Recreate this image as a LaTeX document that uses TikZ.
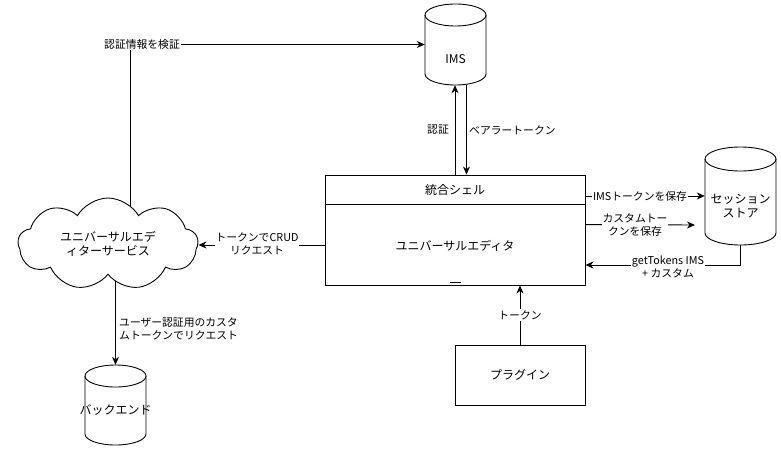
\documentclass[tikz,border=0pt]{standalone}
\usepackage{fontspec}
\setmainfont{Noto Sans CJK JP}
\usetikzlibrary{arrows.meta,shapes.symbols}
\pgfdeclarelayer{bg}
\pgfdeclarelayer{paper}
\pgfsetlayers{paper,bg,main}
\tikzset{
  pics/cyl/.style args={#1/#2/#3}{code={
    \path[draw, line width=0.9pt, fill=white]
      (-#1/2, #2/2-#3) -- (-#1/2, -#2/2+#3)
      arc[start angle=180, end angle=360, x radius={#1/2*1pt}, y radius={#3*1pt}]
      -- (#1/2, #2/2-#3)
      arc[start angle=0, end angle=180, x radius={#1/2*1pt}, y radius={#3*1pt}] -- cycle;
    \draw[line width=0.9pt] (-#1/2, #2/2-#3)
      arc[start angle=180, end angle=360, x radius={#1/2*1pt}, y radius={#3*1pt}];
  }}
}
\begin{document}
\begin{tikzpicture}[x=1pt,y=1pt,
  box/.style={draw, line width=0.9pt, fill=white, inner sep=0pt},
  ntext/.style={font=\fontsize{12}{14}\selectfont, align=center, inner sep=1pt},
  elabel/.style={font=\fontsize{10.8}{13}\selectfont, align=center, fill=white, inner sep=1pt},
  plabel/.style={font=\fontsize{10.8}{13}\selectfont, align=left, inner sep=1pt},
  conn/.style={line width=0.9pt},
  arr/.style={conn, -{Stealth[length=8pt,width=7pt,inset=2.5pt]}},
  anchorbox/.style={inner sep=0pt}
]
\useasboundingbox (0,0) rectangle (781,451);
\begin{pgfonlayer}{paper}
\fill[white] (0,0) rectangle (781,451);
\end{pgfonlayer}

% IMS cylinder
\pic at (455.5,406.5) {cyl=61/81/11};
\node[anchorbox, minimum width=61pt, minimum height=81pt] (ims) at (455.5,406.5) {};
\node[ntext] (imstext) at (455.5,392) {IMS};

% session store cylinder
\pic at (740.5,255) {cyl=71/98/12};
\node[anchorbox, minimum width=71pt, minimum height=98pt] (store) at (740.5,255) {};
\node[ntext] (storetext) at (740.5,244.5) {セッション\\ストア};

% backend cylinder
\pic at (115.5,46) {cyl=61/80/11};
\node[anchorbox, minimum width=61pt, minimum height=80pt] (backend) at (115.5,46) {};
\node[ntext] (backendtext) at (115.5,41) {バックエンド};

% shell
\node[box, minimum width=260pt, minimum height=110pt] (shell) at (455,221) {};
\draw[conn] ([yshift=-30pt]shell.north west) -- ([yshift=-30pt]shell.north east);
\node[ntext] (shelltitle) at (455,261) {統合シェル};
\node[ntext] (shellbody) at (455,205) {ユニバーサルエディタ};
\draw[line width=0.8pt] (450,168.7) -- (461,168.7);

% plugin
\node[box, ntext, minimum width=130pt, minimum height=60pt] (plugin) at (520,76) {プラグイン};

% cloud
\node[cloud, cloud puffs=9, cloud puff arc=120, aspect=2, cloud ignores aspect,
      minimum width=180pt, minimum height=92pt, draw, fill=white, line width=0.9pt,
      ntext] (cloud) at (108,207) {ユニバーサルエデ\\ィターサービス};

\coordinate (vtop) at (130,406.5);
\coordinate (c4) at (325,206);
\coordinate (e2) at (695,226);
\coordinate (c3) at (740.5,186);

\begin{pgfonlayer}{bg}
  % cloud -> IMS
  \draw[arr] (vtop |- cloud.center) -- (vtop) -- (ims.west);
  \node[elabel] (l1) at (142,406.5) {認証情報を検証};
  % shell <-> IMS
  \draw[arr] (shell.north) -- (shell.north |- ims.south);
  \draw[arr] ([xshift=11pt]ims.south) -- ([xshift=11pt]ims.south |- shell.north);
  \node[plabel] (lauth) at (438,321) {認証};
  \node[plabel, anchor=west] (lbearer) at (468,321) {ベアラートークン};
  % shell -> store
  \draw[arr] (shell.north east |- store.west) -- (store.west);
  \node[elabel] (l2) at (640,255) {IMSトークンを保存};
  \draw[arr] ([yshift=-50pt]shell.north east) -- (e2);
  \node[elabel] (l3) at (635,226) {カスタムトー\\クンを保存};
  \draw[arr] (store.south) -- (c3) -- (c3 -| shell.east);
  \node[elabel] (l4) at (668,184.5) {getTokens IMS\\+ カスタム};
  % plugin -> shell
  \draw[arr] (plugin.north) -- (plugin.north |- shell.south);
  \node[elabel] (l7) at (520,136) {トークン};
  % cloud -> backend
  \draw[arr] (backend.north |- cloud.south) -- (backend.north);
  \node[plabel, anchor=west] (l6) at (118,122.5) {ユーザー認証用のカスタ\\ムトークンでリクエスト};
\end{pgfonlayer}
% shell -> cloud (drawn above the cloud fill so its head shows)
\draw[arr] (c4) -- (cloud.east |- c4);
\node[elabel] (l5) at (257,207.5) {トークンでCRUD\\リクエスト};
\end{tikzpicture}
\end{document}
